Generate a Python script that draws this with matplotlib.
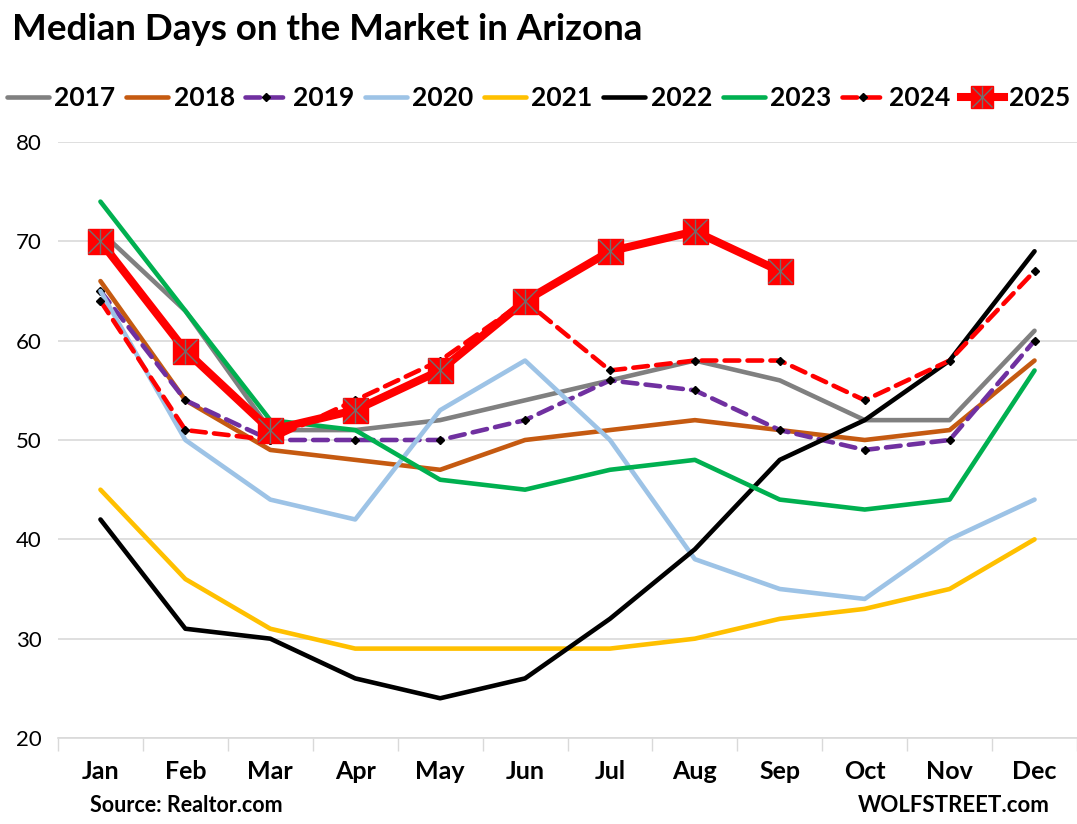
"""Median days on the market in Arizona, by month, 2017-2025."""

import matplotlib
matplotlib.use('Agg')
import matplotlib.pyplot as plt
from matplotlib.lines import Line2D
from matplotlib.legend_handler import HandlerTuple

plt.rcParams['font.family'] = ['Lato', 'DejaVu Sans']

months = ['Jan', 'Feb', 'Mar', 'Apr', 'May', 'Jun',
          'Jul', 'Aug', 'Sep', 'Oct', 'Nov', 'Dec']

y2017 = [71, 63, 51, 51, 52, 54, 56, 58, 56, 52, 52, 61]
y2018 = [66, 54, 49, 48, 47, 50, 51, 52, 51, 50, 51, 58]
y2019 = [65, 54, 50, 50, 50, 52, 56, 55, 51, 49, 50, 60]
y2020 = [65, 50, 44, 42, 53, 58, 50, 38, 35, 34, 40, 44]
y2021 = [45, 36, 31, 29, 29, 29, 29, 30, 32, 33, 35, 40]
y2022 = [42, 31, 30, 26, 24, 26, 32, 39, 48, 52, 58, 69]
y2023 = [74, 63, 52, 51, 46, 45, 47, 48, 44, 43, 44, 57]
y2024 = [64, 51, 50, 54, 58, 64, 57, 58, 58, 54, 58, 67]
y2025 = [70, 59, 51, 53, 57, 64, 69, 71, 67]

y_ticks = [20, 30, 40, 50, 60, 70, 80]

W, H = 1077, 824
fig = plt.figure(figsize=(W / 100, H / 100), dpi=100)
ax = fig.add_axes([58 / W, 1 - 738 / H, (W - 58) / W, (738 - 142) / H])

x = list(range(len(months)))
lw = 3.3
dash = (0, (3.2, 1.8))

ax.plot(x, y2017, color='#808080', lw=lw, label='2017', solid_capstyle='round')
ax.plot(x, y2018, color='#C55A11', lw=lw, label='2018', solid_capstyle='round')
ax.plot(x, y2019, color='#7030A0', lw=lw, ls=dash, label='2019',
        marker='D', ms=4, mfc='k', mec='k', dash_capstyle='round')
ax.plot(x, y2020, color='#9DC3E6', lw=lw, label='2020', solid_capstyle='round')
ax.plot(x, y2021, color='#FFC000', lw=lw, label='2021', solid_capstyle='round')
ax.plot(x, y2022, color='black', lw=lw, label='2022', solid_capstyle='round')
ax.plot(x, y2023, color='#00B050', lw=lw, label='2023', solid_capstyle='round')
ax.plot(x, y2024, color='#FF0000', lw=lw, ls=dash, label='2024',
        marker='D', ms=4, mfc='k', mec='k', dash_capstyle='round')

# 2025: thick red line, boxed asterisk markers
x25 = x[:len(y2025)]
ax.plot(x25, y2025, color='#FF0000', lw=5.8, marker='s', ms=18,
        mfc='#FF0000', mec='#FF0000', zorder=5)
ax.plot(x25, y2025, ls='', marker='x', ms=17, mec='#707070', mew=1.0, zorder=6)
ax.plot(x25, y2025, ls='', marker='|', ms=18, mec='#707070', mew=1.0, zorder=6)

ax.set_xlim(-0.47, 11.45)
ax.set_ylim(20, 80)
ax.set_yticks(y_ticks)
ax.set_yticklabels([str(v) for v in y_ticks], fontsize=16)
ax.set_xticks(x)
ax.set_xticklabels(months, fontsize=18, fontweight='bold')
ax.tick_params(axis='both', length=0)
ax.tick_params(axis='x', pad=16)
ax.tick_params(axis='y', pad=12)
ax.set_xticks([i - 0.5 for i in range(13)], minor=True)
ax.tick_params(axis='x', which='minor', length=9, color='#D9D9D9', width=1)
ax.grid(axis='y', color='#D9D9D9', lw=1.2)
ax.set_axisbelow(True)
for side in ['top', 'right', 'left']:
    ax.spines[side].set_visible(False)
ax.spines['bottom'].set_color('#D9D9D9')
ax.spines['bottom'].set_linewidth(1.2)

# Legend
handles, labels = ax.get_legend_handles_labels()
h25 = (Line2D([], [], color='#FF0000', lw=5.8, marker='s', ms=16,
              mfc='#FF0000', mec='#FF0000'),
       Line2D([], [], ls='', marker='x', ms=15, mec='#707070', mew=1.0),
       Line2D([], [], ls='', marker='|', ms=16, mec='#707070', mew=1.0))
handles.append(h25)
labels.append('2025')
fig.legend(handles, labels, loc='center', bbox_to_anchor=(0.5, 1 - 98 / H),
           ncol=9, frameon=False, handlelength=1.6, handletextpad=0.2,
           columnspacing=0.4, borderpad=0.2, prop={'weight': 'bold', 'size': 19},
           handler_map={tuple: HandlerTuple(ndivide=1, pad=0)})

fig.text(12 / W, 1 - 30 / H, 'Median Days on the Market in Arizona',
         fontsize=26.5, fontweight='bold', va='center', ha='left')
fig.text(90 / W, 1 - 806 / H, 'Source: Realtor.com', fontsize=15.5,
         fontweight='bold', va='center', ha='left')
fig.text(1050 / W, 1 - 806 / H, 'WOLFSTREET.com', fontsize=16,
         fontweight='bold', va='center', ha='right')

fig.savefig('out.png', dpi=100)
